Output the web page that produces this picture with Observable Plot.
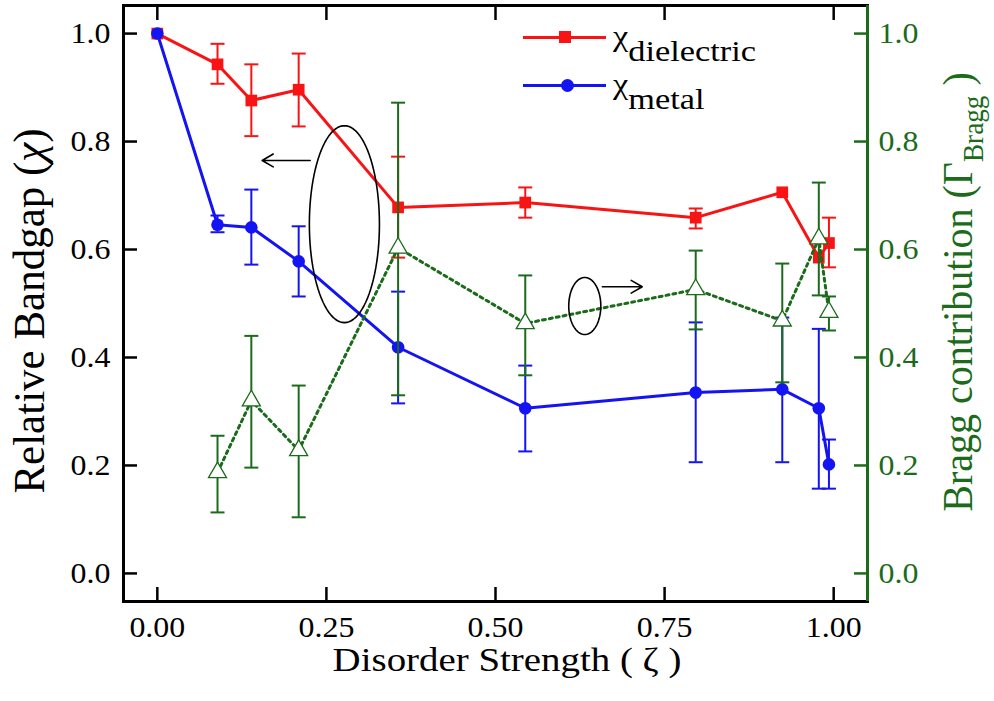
<!DOCTYPE html>
<html><head><meta charset="utf-8">
<script src="https://cdn.jsdelivr.net/npm/d3@7"></script>
<script src="https://cdn.jsdelivr.net/npm/@observablehq/plot@0.6"></script>
<style>
body{margin:0;background:#fff;}
#wrap{position:relative;width:994px;height:701px;overflow:hidden;}
.lbl{position:absolute;white-space:nowrap;line-height:1;}
.sw{position:absolute;}
</style></head><body><div id="wrap"></div>
<script>
// ---- data ----
const zeta = [0, 0.089, 0.139, 0.209, 0.356, 0.544, 0.796, 0.924, 0.978, 0.993];
const chiDielectric   = [1.0, 0.943, 0.876, 0.896, 0.678, 0.687, 0.659, 0.706, 0.585, 0.612];
const chiDielectricLo = [1.0, 0.907, 0.810, 0.828, 0.585, 0.659, 0.639, 0.706, 0.585, 0.567];
const chiDielectricHi = [1.0, 0.981, 0.943, 0.963, 0.772, 0.715, 0.676, 0.706, 0.585, 0.659];
const chiMetal   = [1.0, 0.646, 0.641, 0.578, 0.419, 0.306, 0.335, 0.341, 0.306, 0.202];
const chiMetalLo = [1.0, 0.632, 0.572, 0.513, 0.315, 0.226, 0.206, 0.206, 0.157, 0.157];
const chiMetalHi = [1.0, 0.663, 0.711, 0.643, 0.522, 0.385, 0.465, 0.474, 0.453, 0.248];
const braggZeta = [0.089, 0.139, 0.209, 0.356, 0.544, 0.796, 0.924, 0.978, 0.993];
const bragg   = [0.187, 0.320, 0.228, 0.603, 0.463, 0.526, 0.468, 0.620, 0.484];
const braggLo = [0.113, 0.196, 0.104, 0.330, 0.367, 0.452, 0.354, 0.515, 0.450];
const braggHi = [0.255, 0.440, 0.348, 0.872, 0.552, 0.598, 0.574, 0.724, 0.513];
const xTicks = [0, 0.25, 0.5, 0.75, 1.0];
const yTicks = [0, 0.2, 0.4, 0.6, 0.8, 1.0];
const xDomain = [-0.05, 1.05];
const yDomain = [-0.052, 1.052];
// annotations (data units)
const ellipseCX = [0.2766, 0.632];
const ellipseCY = [0.647, 0.4954];
const ellipseRX = [0.0518, 0.0237];
const ellipseRY = [0.1824, 0.0528];
const arrowX1 = [0.226, 0.658];
const arrowX2 = [0.155, 0.717];
const arrowY  = [0.765, 0.531];

const RED = "#f81414", BLUE = "#1414f2", GREEN = "#1b6b1b";

// pick an installed serif font (fallback to a narrow sans)
function fontAvailable(name){
  const c = document.createElement("canvas").getContext("2d");
  const s = "Relative Bandgap 0.25 Wgi";
  for (const fb of ["monospace", "serif", "sans-serif"]) {
    c.font = `40px ${fb}`; const w0 = c.measureText(s).width;
    c.font = `40px "${name}", ${fb}`; const w1 = c.measureText(s).width;
    if (Math.abs(w0 - w1) > 0.01) return true;
  }
  return false;
}
const serifs = ["Liberation Serif", "Times New Roman", "Tinos", "Nimbus Roman", "Nimbus Roman No9 L", "FreeSerif", "Noto Serif", "DejaVu Serif", "Times"];
const sanses = ["Liberation Sans", "Arimo", "Arial", "Roboto", "Noto Sans", "DejaVu Sans"];
let FONT = serifs.find(fontAvailable), IS_SERIF = true;
if (!FONT) { FONT = sanses.find(fontAvailable) || "sans-serif"; IS_SERIF = false; }
const FAMILY = FONT.includes(" ") ? `"${FONT}"` : FONT;
const K = IS_SERIF ? 1 : 0.92;          // size factor
const ST = IS_SERIF ? 1.1 : 1.0;         // horizontal stretch
document.getElementById("wrap").style.fontFamily = FAMILY;

const diel = zeta.map((x,i)=>({x, y: chiDielectric[i], lo: chiDielectricLo[i], hi: chiDielectricHi[i]}));
const metal = zeta.map((x,i)=>({x, y: chiMetal[i], lo: chiMetalLo[i], hi: chiMetalHi[i]}));
const br = braggZeta.map((x,i)=>({x, y: bragg[i], lo: braggLo[i], hi: braggHi[i]}));
const dielE = diel.filter(d=>d.hi>d.lo), metalE = metal.filter(d=>d.hi>d.lo);

const cap = { draw(ctx, size){ const r = Math.sqrt(size/Math.PI); ctx.moveTo(-r,0); ctx.lineTo(r,0); } };

const ell = ellipseCX.flatMap((cx,i)=> d3.range(0,97).map(k=>{const a=k/96*2*Math.PI; return {id:i, x: cx+ellipseRX[i]*Math.cos(a), y: ellipseCY[i]+ellipseRY[i]*Math.sin(a)};}));
const arrows = arrowX1.map((x1,i)=>({x1, x2: arrowX2[i], y: arrowY[i]}));

function errMarks(data, color){
  return [
    Plot.ruleX(data, {x:"x", y1:"lo", y2:"hi", stroke: color, strokeWidth: 2}),
    Plot.dot(data, {x:"x", y:"hi", symbol: cap, r: 7, stroke: color, strokeWidth: 2, fill: "none"}),
    Plot.dot(data, {x:"x", y:"lo", symbol: cap, r: 7, stroke: color, strokeWidth: 2, fill: "none"})
  ];
}

const svg = Plot.plot({
  width: 994, height: 701,
  marginLeft: 123, marginRight: 127, marginTop: 5, marginBottom: 100,
  x: {domain: xDomain},
  y: {domain: yDomain},
  style: {fontFamily: FAMILY, fontSize: `${29*K}px`, background: "white", color: "black"},
  marks: [
    ...errMarks(dielE, RED),
    ...errMarks(metalE, BLUE),
    Plot.line(diel, {x:"x", y:"y", stroke: RED, strokeWidth: 3}),
    Plot.line(metal, {x:"x", y:"y", stroke: BLUE, strokeWidth: 3}),
    Plot.dot(diel, {x:"x", y:"y", symbol:"square", r: 6.6, fill: RED}),
    Plot.dot(metal, {x:"x", y:"y", symbol:"circle", r: 6.3, fill: BLUE}),
    ...errMarks(br, GREEN),
    Plot.line(br, {x:"x", y:"y", stroke: GREEN, strokeWidth: 3, strokeDasharray: "3,4"}),
    Plot.dot(br, {x:"x", y:"y", symbol:"triangle", r: 6.7, fill: "white", stroke: GREEN, strokeWidth: 1.3}),
    Plot.line(ell, {x:"x", y:"y", z:"id", stroke:"black", strokeWidth: 1.6}),
    Plot.arrow(arrows, {x1:"x1", x2:"x2", y1:"y", y2:"y", stroke:"black", strokeWidth: 1.6, headLength: 12}),
    Plot.axisY({anchor:"left", ticks: yTicks, tickFormat: ".1f", tickSize: -14, tickPadding: 27, strokeWidth: 2.5, label: null}),
    Plot.axisY({anchor:"right", ticks: yTicks, tickFormat: ".1f", tickSize: -14, tickPadding: 25, strokeWidth: 2.5, label: null, color: GREEN}),
    Plot.axisX({anchor:"bottom", ticks: xTicks, tickFormat: ".2f", tickSize: -14, tickPadding: 29, strokeWidth: 2.5, label: null}),
    Plot.axisX({anchor:"top", ticks: xTicks, tickFormat: () => "", tickSize: -14, strokeWidth: 2.5, label: null}),
    Plot.frame({stroke: "black", strokeWidth: 3}),
    Plot.ruleX([xDomain[1]], {stroke: GREEN, strokeWidth: 3})
  ]
});
const wrap = document.getElementById("wrap");
wrap.appendChild(svg);
if (ST !== 1) svg.querySelectorAll("text").forEach(t => {
  const L = t.getComputedTextLength();
  if (L > 0) { t.setAttribute("textLength", (L*ST).toFixed(1)); t.setAttribute("lengthAdjust", "spacingAndGlyphs"); }
});

function addLabel(html, css){ const d = document.createElement("div"); d.className = "lbl"; d.innerHTML = html; Object.assign(d.style, css); wrap.appendChild(d); return d; }
function addSw(css){ const d = document.createElement("div"); d.className = "sw"; Object.assign(d.style, css); wrap.appendChild(d); }

// axis titles
addLabel("Disorder Strength ( ζ )", {left:"507px", top:"643px", fontSize:`${34*K}px`, transform:`translate(-50%,0) scaleX(${ST*1.04})`});
addLabel("Relative Bandgap (<i>χ</i>)", {left:"29px", top:"311px", fontSize:`${43*K}px`, transform:`translate(-50%,-50%) scaleX(${ST*0.95}) rotate(-90deg)`});
addLabel("Bragg contribution (Γ<span style='font-size:0.68em;position:relative;top:0.35em'>Bragg</span> )", {left:"958px", top:"292px", fontSize:`${40*K}px`, color: GREEN, transform:`translate(-50%,-50%) scaleX(${ST*0.97}) rotate(-90deg)`});

// legend
addSw({left:"523px", top:"35.5px", width:"83px", height:"3px", background: RED});
addSw({left:"559px", top:"31px", width:"12px", height:"12px", background: RED});
addSw({left:"523px", top:"83.5px", width:"83px", height:"3px", background: BLUE});
addSw({left:"561px", top:"79px", width:"13px", height:"13px", background: BLUE, borderRadius:"50%"});
addLabel("χ<span style='position:relative;top:15px'>dielectric</span>", {left:"613px", top:"21px", fontSize:`${30*K}px`, transformOrigin:"left", transform:`scaleX(${ST*1.04})`});
addLabel("χ<span style='position:relative;top:15px'>metal</span>", {left:"613px", top:"69px", fontSize:`${30*K}px`, transformOrigin:"left", transform:`scaleX(${ST*1.04})`});
</script>
</body></html>
